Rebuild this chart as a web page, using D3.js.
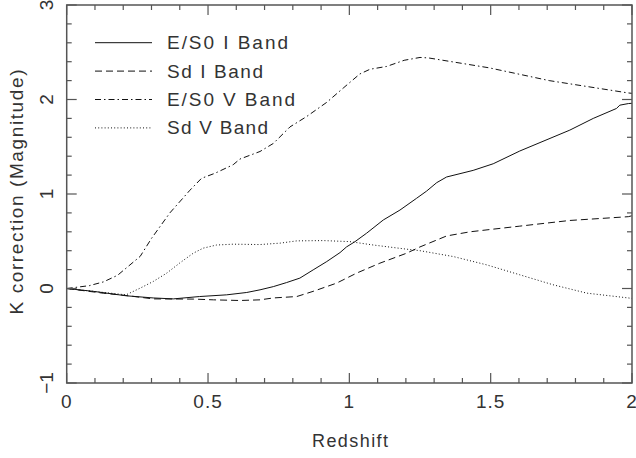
<!DOCTYPE html>
<html>
<head>
<meta charset="utf-8">
<script src="https://cdn.jsdelivr.net/npm/d3@7"></script>
<style>
  body { margin: 0; background: #fff; }
  text { font-family: "Liberation Sans", Arial, sans-serif; fill: #333; }
</style>
</head>
<body>
<div class="chart"></div>
<script>
// K correction vs redshift
var es0I = [[0,0],[0.094,-0.03],[0.21,-0.077],[0.306,-0.10],[0.377,-0.11],[0.47,-0.085],[0.566,-0.067],
  [0.637,-0.042],[0.684,-0.014],[0.731,0.02],[0.778,0.063],[0.825,0.11],[0.872,0.197],[0.92,0.285],
  [0.967,0.38],[0.99,0.44],[1.02,0.496],[1.061,0.585],[1.12,0.725],[1.179,0.83],[1.238,0.955],
  [1.273,1.03],[1.309,1.12],[1.344,1.18],[1.438,1.25],[1.509,1.32],[1.603,1.455],[1.78,1.676],
  [1.863,1.80],[1.945,1.905],[1.957,1.94],[1.987,1.957],[2,1.96]];
var sdI = [[0,0],[0.13,-0.05],[0.21,-0.074],[0.306,-0.11],[0.448,-0.112],[0.519,-0.12],[0.613,-0.127],
  [0.684,-0.12],[0.731,-0.10],[0.814,-0.085],[0.872,-0.03],[0.955,0.057],[1.026,0.163],[1.108,0.268],
  [1.203,0.374],[1.25,0.44],[1.344,0.556],[1.427,0.60],[1.603,0.66],[1.78,0.72],[1.987,0.76],[2,0.77]];
var es0V = [[0,0],[0.08,0.03],[0.13,0.07],[0.18,0.14],[0.21,0.215],[0.26,0.34],[0.30,0.53],[0.365,0.80],[0.436,1.04],
  [0.477,1.166],[0.525,1.22],[0.589,1.31],[0.613,1.37],[0.684,1.45],[0.731,1.535],[0.79,1.71],
  [0.849,1.82],[0.92,1.97],[0.978,2.12],[1.037,2.27],[1.073,2.32],[1.132,2.35],[1.194,2.415],
  [1.25,2.445],[1.28,2.44],[1.495,2.335],[1.707,2.20],[1.985,2.07],[2,2.065]];
var sdV = [[0,0],[0.094,-0.03],[0.21,-0.067],[0.26,0.004],[0.306,0.074],[0.354,0.163],[0.40,0.27],
  [0.448,0.374],[0.483,0.427],[0.53,0.46],[0.589,0.469],[0.684,0.465],[0.755,0.48],[0.814,0.504],
  [0.908,0.507],[1.002,0.496],[1.085,0.46],[1.203,0.416],[1.25,0.40],[1.368,0.338],[1.486,0.25],
  [1.603,0.145],[1.72,0.04],[1.84,-0.049],[1.987,-0.10],[2,-0.105]];

var seriesNames = ["E/S0 I Band", "Sd I Band", "E/S0 V Band", "Sd V Band"];
var seriesData = [es0I, sdI, es0V, sdV];
var dashes = [null, "7,4", "6,3,1.5,3", "1,2.2"];
var legendTextWidths = [121, 96, 128, 101];

var xTicks = [0, 0.5, 1, 1.5, 2];
var xTickLabels = ["0", "0.5", "1", "1.5", "2"];
var yTicks = [-1, 0, 1, 2, 3];
var yTickLabels = ["\u22121", "0", "1", "2", "3"];

var svgWidth = 636, svgHeight = 458;
var margin = { top: 5, right: 4, bottom: 75, left: 66.7 };
var width = svgWidth - margin.left - margin.right;
var height = svgHeight - margin.top - margin.bottom;

var svg = d3.select(".chart").append("svg")
  .attr("width", svgWidth)
  .attr("height", svgHeight);

var g = svg.append("g")
  .attr("transform", `translate(${margin.left}, ${margin.top})`);

var x = d3.scaleLinear().domain([0, 2]).range([0, width]);
var y = d3.scaleLinear().domain([-1, 3]).range([height, 0]);

// curves
var line = d3.line().x(d => x(d[0])).y(d => y(d[1]));
seriesData.forEach(function(s, i) {
  g.append("path")
    .datum(s)
    .attr("d", line)
    .attr("fill", "none")
    .attr("stroke", "#111")
    .attr("stroke-width", 1)
    .attr("stroke-dasharray", dashes[i]);
});

// ticks, pointing inward on all four sides
var xMinor = d3.range(0, 2.0001, 0.1);
var yMinor = d3.range(-1, 3.0001, 0.2);
function tickLen(v, step) { return Math.abs(v / step - Math.round(v / step)) < 1e-6 ? 10 : 5; }

var axisCol = "#555";
xMinor.forEach(function(v) {
  var L = tickLen(v, 0.5);
  g.append("line").attr("x1", x(v)).attr("x2", x(v)).attr("y1", height).attr("y2", height - L)
    .attr("stroke", axisCol).attr("stroke-width", 1.2);
  g.append("line").attr("x1", x(v)).attr("x2", x(v)).attr("y1", 0).attr("y2", L)
    .attr("stroke", axisCol).attr("stroke-width", 1.2);
});
yMinor.forEach(function(v) {
  var L = tickLen(v, 1);
  g.append("line").attr("x1", 0).attr("x2", L).attr("y1", y(v)).attr("y2", y(v))
    .attr("stroke", axisCol).attr("stroke-width", 1.2);
  g.append("line").attr("x1", width).attr("x2", width - L).attr("y1", y(v)).attr("y2", y(v))
    .attr("stroke", axisCol).attr("stroke-width", 1.2);
});

g.append("rect")
  .attr("width", width).attr("height", height)
  .attr("fill", "none").attr("stroke", axisCol).attr("stroke-width", 1.5);

// tick labels
g.selectAll(".xlab").data(xTicks).enter().append("text")
  .attr("class", "xlab")
  .attr("x", d => x(d)).attr("y", height + 25)
  .attr("text-anchor", "middle")
  .attr("font-size", "19px")
  .attr("letter-spacing", "1px")
  .text((d, i) => xTickLabels[i]);

g.selectAll(".ylab").data(yTicks).enter().append("text")
  .attr("class", "ylab")
  .attr("transform", d => `translate(${-13.5}, ${y(d)}) rotate(-90)`)
  .attr("text-anchor", "middle")
  .attr("font-size", "19px")
  .text((d, i) => yTickLabels[i]);

// axis titles
svg.append("text")
  .attr("x", 350).attr("y", 447)
  .attr("text-anchor", "middle")
  .attr("font-size", "18px")
  .attr("textLength", 76)
  .text("Redshift");

svg.append("text")
  .attr("transform", "translate(23, 192) rotate(-90)")
  .attr("text-anchor", "middle")
  .attr("font-size", "19px")
  .attr("textLength", 245)
  .text("K correction (Magnitude)");

// legend
var legend = g.append("g").attr("transform", `translate(${95 - margin.left}, ${42.7 - margin.top})`);
seriesNames.forEach(function(name, i) {
  var row = legend.append("g").attr("transform", `translate(0, ${i * 28.4})`);
  row.append("line").attr("x1", 0).attr("x2", 57)
    .attr("stroke", "#111").attr("stroke-width", 1)
    .attr("stroke-dasharray", dashes[i]);
  row.append("text").attr("x", 72).attr("y", 6.5)
    .attr("font-size", "19px")
    .attr("textLength", legendTextWidths[i])
    .text(name);
});
</script>
</body>
</html>
